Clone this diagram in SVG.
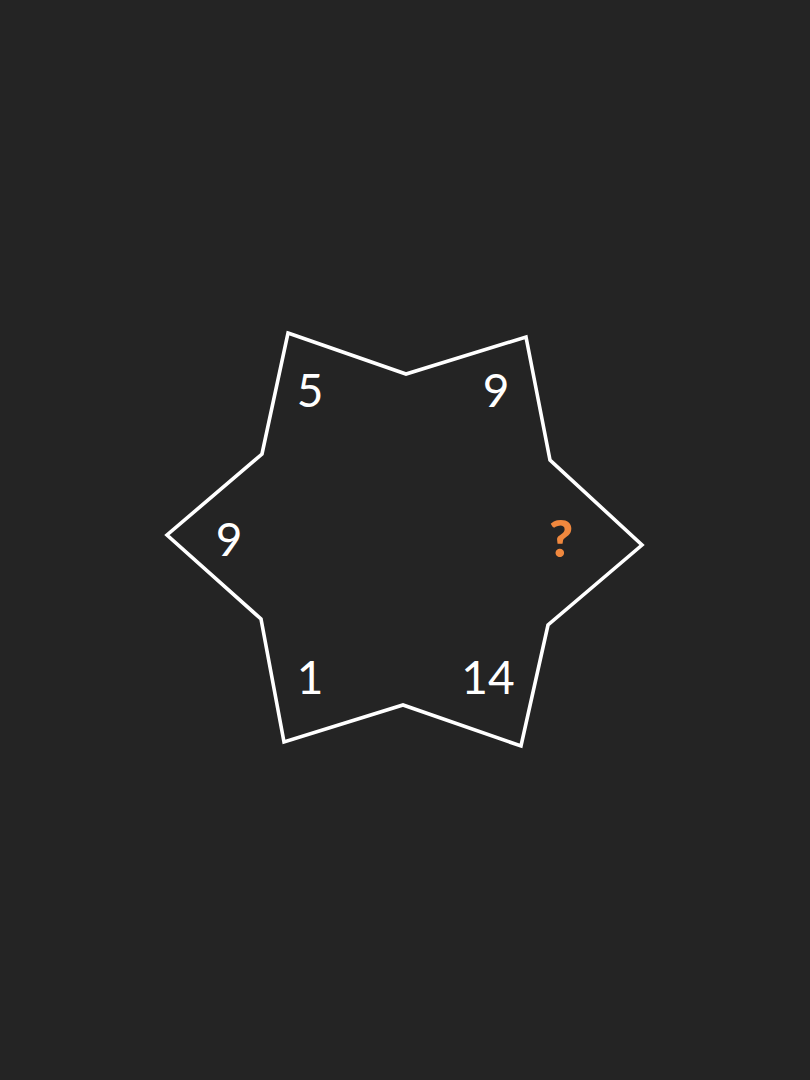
<svg xmlns="http://www.w3.org/2000/svg" width="810" height="1080" viewBox="0 0 810 1080">
<style>
.num{font-family:Lato,"Liberation Sans",sans-serif;font-size:46px;fill:#ffffff;text-anchor:middle}
.q{font-family:Lato,"Liberation Sans",sans-serif;font-size:52px;font-weight:900;fill:#f0883e;text-anchor:middle}
.star{fill:none;stroke:#ffffff;stroke-width:3.6;stroke-linejoin:miter}
</style>
<rect width="810" height="1080" fill="#242424"/>
<g id="star">
<polygon class="star" points="288,333 406,374 526,337 550,460 642,545 548,625 521,746 403,705 284,742 261,619 167,535 262,454"/>
</g>
<g id="labels">
<text class="num" x="310" y="407">5</text>
<text class="num" x="496" y="407">9</text>
<text class="num" x="229" y="556">9</text>
<text class="q" x="561" y="557">?</text>
<text class="num" x="310" y="694">1</text>
<text class="num" x="488" y="694">14</text>
</g>
</svg>
